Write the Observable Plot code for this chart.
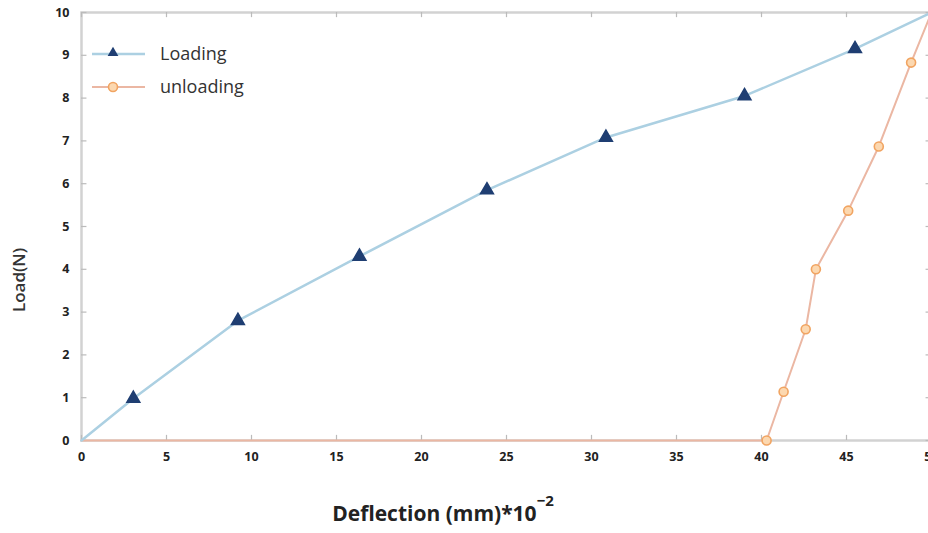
<!DOCTYPE html>
<html>
<head>
<meta charset="utf-8">
<script src="https://cdn.jsdelivr.net/npm/d3@7"></script>
<script src="https://cdn.jsdelivr.net/npm/@observablehq/plot@0.6"></script>
<style>
  html, body { margin: 0; padding: 0; background: #fff; }
  #chart svg { display: block; }
</style>
</head>
<body>
<div id="chart"></div>
<script>
// Loading series: deflection (mm*10^-2) vs load (N)
const loadingX = [0, 3.05, 9.2, 16.35, 23.85, 30.85, 39.0, 45.5, 50];
const loadingY = [0, 0.98, 2.8, 4.3, 5.85, 7.08, 8.05, 9.15, 10];
const loadingMarker = [false, true, true, true, true, true, true, true, false];

// Unloading series
const unloadingX = [0, 40.3, 41.3, 42.6, 43.2, 45.1, 46.9, 48.8, 50];
const unloadingY = [0, 0, 1.14, 2.6, 4.0, 5.37, 6.87, 8.83, 10];
const unloadingMarker = [false, true, true, true, true, true, true, true, false];

const xTicks = [0, 5, 10, 15, 20, 25, 30, 35, 40, 45, 50];
const yTicks = [0, 1, 2, 3, 4, 5, 6, 7, 8, 9, 10];

const loading = loadingX.map((x, i) => ({x, y: loadingY[i], m: loadingMarker[i]}));
const unloading = unloadingX.map((x, i) => ({x, y: unloadingY[i], m: unloadingMarker[i]}));

const gray = "#d2d2d2";
const fontFam = "'Open Sans', 'Liberation Sans', sans-serif";

const chart = Plot.plot({
  width: 928,
  height: 533,
  marginLeft: 81,
  marginRight: -3,
  marginTop: 12,
  marginBottom: 93,
  style: {background: "#fff", fontFamily: fontFam, overflow: "hidden"},
  x: {domain: [0, 50]},
  y: {domain: [0, 10]},
  marks: [
    Plot.frame({stroke: gray, strokeWidth: 2.5}),
    // inward ticks
    Plot.ruleX(xTicks, {x: d => d, y1: 0, y2: 0.12, stroke: "#bbb", strokeWidth: 1.2}),
    Plot.ruleX(xTicks, {x: d => d, y1: 10, y2: 9.88, stroke: "#bbb", strokeWidth: 1.2}),
    Plot.ruleY(yTicks, {y: d => d, x1: 0, x2: 0.32, stroke: "#bbb", strokeWidth: 1.2}),
    Plot.ruleY(yTicks, {y: d => d, x1: 50, x2: 49.68, stroke: "#bbb", strokeWidth: 1.2}),
    Plot.axisX({ticks: xTicks, tickSize: 0, tickPadding: 12, label: null, fill: "#222", fontWeight: "bold", fontSize: 12.5}),
    Plot.axisY({ticks: yTicks, tickSize: 0, tickPadding: 12, label: null, fill: "#222", fontWeight: "bold", fontSize: 12.5}),
    Plot.line(unloading, {x: "x", y: "y", stroke: "#ebb7a3", strokeWidth: 2}),
    Plot.line(loading, {x: "x", y: "y", stroke: "#acd0e2", strokeWidth: 2.5}),
    Plot.dot(unloading.filter(d => d.m), {x: "x", y: "y", r: 4.5, fill: "#fcd8b0", stroke: "#f1a461", strokeWidth: 1.6}),
    Plot.dot(loading.filter(d => d.m), {x: "x", y: "y", symbol: "triangle", r: 4.8, fill: "#1f3e72", stroke: "#1f3e72"})
  ]
});

const svg = d3.select(chart);

// Y axis title
svg.append("text")
  .attr("transform", "translate(25,280) rotate(-90)")
  .attr("text-anchor", "middle")
  .attr("fill", "#333")
  .style("font", `600 17px ${fontFam}`)
  .text("Load(N)");

// X axis title with superscript
const xt = svg.append("text")
  .attr("x", 443)
  .attr("y", 521)
  .attr("text-anchor", "middle")
  .attr("fill", "#222")
  .style("font", `bold 21px ${fontFam}`);
xt.append("tspan").text("Deflection (mm)*10");
xt.append("tspan").attr("dy", -15).style("font-size", "15px").text("−2");

// Legend
const lg = svg.append("g").attr("transform", "translate(92,54)");
lg.append("line").attr("x1", 0).attr("x2", 53).attr("y1", 0).attr("y2", 0).attr("stroke", "#acd0e2").attr("stroke-width", 2.5);
lg.append("path").attr("d", d3.symbol(d3.symbolTriangle, 50)()).attr("transform", "translate(21,-1)").attr("fill", "#1f3e72");
lg.append("text").attr("x", 68).attr("y", 6).attr("fill", "#333").attr("text-anchor", "start")
  .style("font", `18px ${fontFam}`).text("Loading");
lg.append("line").attr("x1", 0).attr("x2", 53).attr("y1", 33).attr("y2", 33).attr("stroke", "#ebb7a3").attr("stroke-width", 2);
lg.append("circle").attr("cx", 21).attr("cy", 33).attr("r", 4.5).attr("fill", "#fcd8b0").attr("stroke", "#f1a461").attr("stroke-width", 1.6);
lg.append("text").attr("x", 68).attr("y", 39).attr("fill", "#333").attr("text-anchor", "start")
  .style("font", `18px ${fontFam}`).text("unloading");

document.getElementById("chart").appendChild(chart);
</script>
</body>
</html>
